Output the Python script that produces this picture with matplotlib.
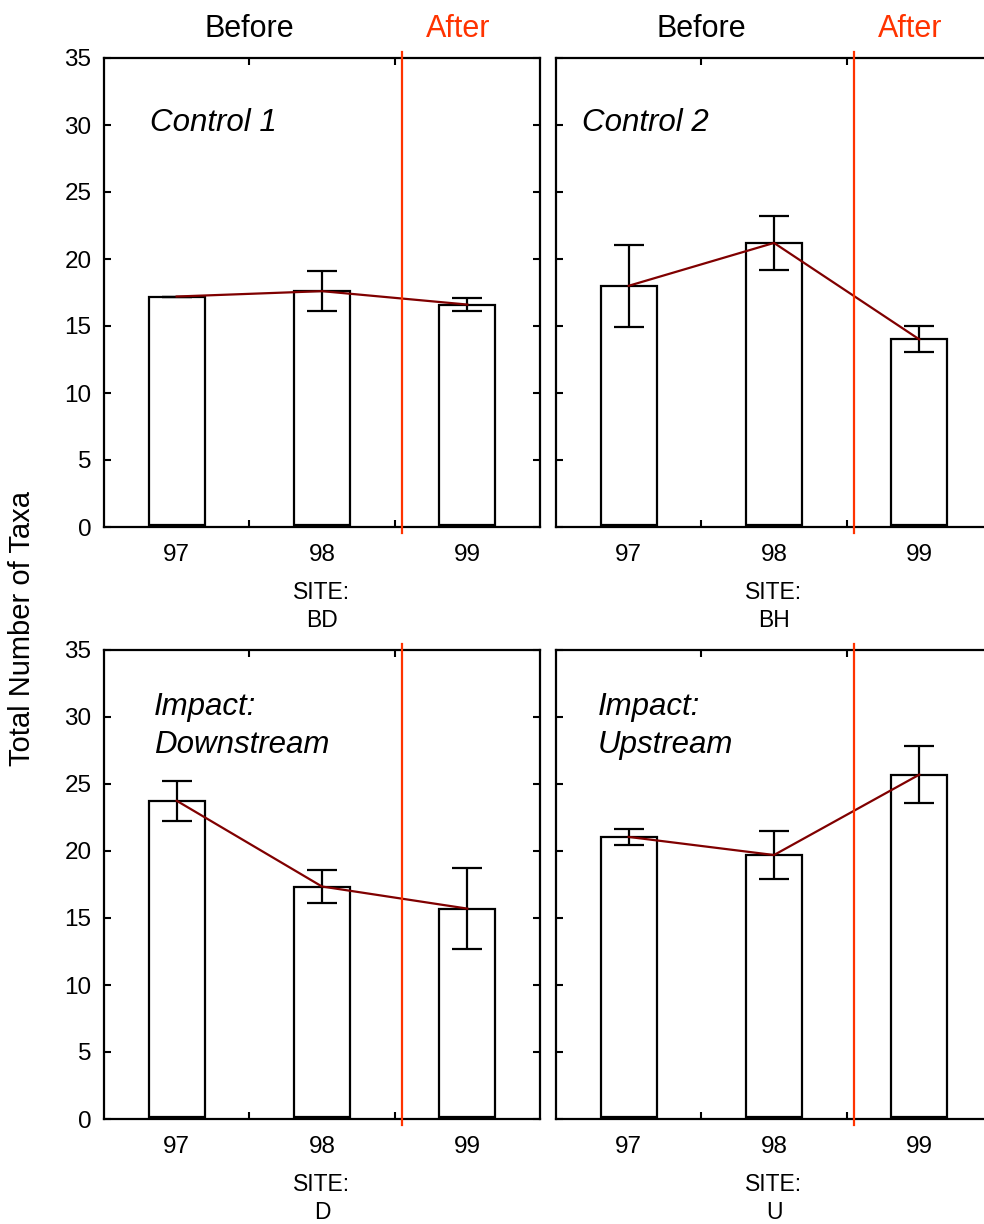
import matplotlib
matplotlib.use('Agg')
import matplotlib.pyplot as plt
import numpy as np

plt.rcParams['font.family'] = ['Liberation Sans', 'DejaVu Sans']

# data
years = ['97', '98', '99']
sites = ['BD', 'BH', 'D', 'U']
titles = ['Control 1', 'Control 2', 'Impact:\nDownstream', 'Impact:\nUpstream']

bd_mean = [17.2, 17.6, 16.6]
bd_err = [0.0, 1.5, 0.5]
bh_mean = [18.0, 21.2, 14.0]
bh_err = [3.05, 2.0, 0.97]
d_mean = [23.75, 17.35, 15.7]
d_err = [1.5, 1.2, 3.0]
u_mean = [21.05, 19.7, 25.7]
u_err = [0.6, 1.8, 2.15]

means = [bd_mean, bh_mean, d_mean, u_mean]
errs = [bd_err, bh_err, d_err, u_err]

red = '#ff3300'
line_col = '#800000'

fig = plt.figure(figsize=(9.84, 12.24), dpi=100)
W = 436 / 984
H = 469 / 1224
positions = [(104 / 984, 1 - 527 / 1224), (556 / 984, 1 - 527 / 1224),
             (104 / 984, 1 - 1119 / 1224), (556 / 984, 1 - 1119 / 1224)]
title_x = [0.105, 0.06, 0.115, 0.096]
title_y = [0.862, 0.862, 0.838, 0.838]

x = np.arange(len(years))
for i in range(4):
    ax = fig.add_axes([positions[i][0], positions[i][1], W, H])
    # bars sit a hair above the axis like in the original
    ax.bar(x, np.array(means[i]) - 0.15, bottom=0.15, width=0.385, color='white',
           edgecolor='black', linewidth=1.6, zorder=2)
    ax.errorbar(x, means[i], yerr=errs[i], fmt='none', ecolor='black',
                elinewidth=1.6, capsize=10.5, capthick=1.6, zorder=3)
    ax.plot(x, means[i], color=line_col, linewidth=1.6, zorder=4)
    ax.axvline(1.55, ymin=-0.012, ymax=1.012, color=red, linewidth=1.6, clip_on=False, zorder=5)

    ax.set_xlim(-0.5, 2.5)
    ax.set_ylim(0, 35)
    ax.set_yticks(range(0, 36, 5))
    ax.set_xticks(x)
    ax.set_xticks([0.5, 1.5], minor=True)
    ax.set_xticklabels(years)
    ax.tick_params(axis='both', which='both', direction='in', width=1.5, length=5,
                   labelsize=17.5, top=True, right=True)
    ax.tick_params(axis='x', which='major', length=0, pad=12)
    ax.tick_params(axis='y', pad=9)
    if i % 2 == 1:
        ax.set_yticklabels([])
        ax.spines['right'].set_visible(False)
    for s in ax.spines.values():
        s.set_linewidth(1.6)

    ax.text(title_x[i], title_y[i], titles[i], transform=ax.transAxes,
            fontsize=22.5, fontstyle='italic', va='center', ha='left', linespacing=1.33)
    ax.text(1.0, -0.139, 'SITE:', transform=ax.get_xaxis_transform(),
            fontsize=16.5, ha='center', va='center')
    ax.text(1.0, -0.199, sites[i], transform=ax.get_xaxis_transform(),
            fontsize=16.5, ha='center', va='center')

    if i < 2:
        ax.text(0.5, 1.062, 'Before', transform=ax.get_xaxis_transform(),
                fontsize=22, ha='center', va='center')
        ax.text(1.94, 1.062, 'After', transform=ax.get_xaxis_transform(),
                fontsize=22, ha='center', va='center', color=red)

fig.text(0.022, 1 - 628 / 1224, 'Total Number of Taxa', rotation=90,
         fontsize=21, ha='center', va='center')

fig.savefig('out.png', dpi=100)
